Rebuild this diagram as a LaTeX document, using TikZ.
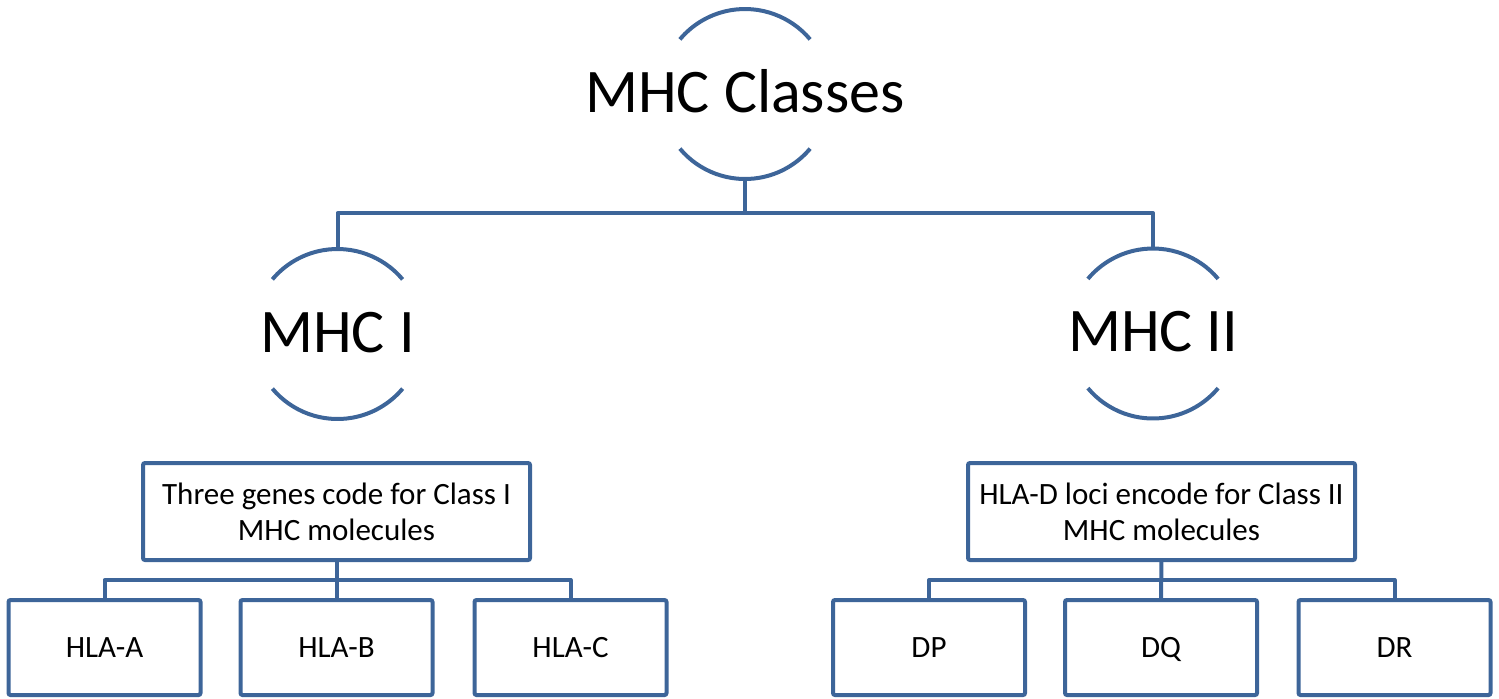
\documentclass[tikz,border=0pt]{standalone}
\usepackage{fontspec}
\setmainfont{Carlito}
\definecolor{lc}{RGB}{61,101,153}
\begin{document}
\begin{tikzpicture}[x=0.5pt,y=0.5pt,
  ln/.style={draw=lc, line width=2pt, line join=round},
  ring/.style={circle, minimum size=85pt, inner sep=0pt, outer sep=0pt},
  big/.style={font=\fontsize{31}{37}\selectfont, inner sep=0pt, text height=20pt, text depth=0pt, yshift=1pt},
  box/.style={draw=lc, line width=2pt, rounded corners=1pt, fill=white,
    font=\fontsize{15.5}{18}\selectfont, align=center, inner sep=0pt, outer sep=0pt},
  topbox/.style={box, minimum width=193.5pt, minimum height=48.5pt},
  leaf/.style={box, minimum width=96pt, minimum height=47.5pt, text height=10pt, text depth=0pt}]
\useasboundingbox (0,0) rectangle (1499,-698);

% ring nodes
\node[ring] (top) at (745,-94) {};
\node[big] (toptxt) at (top) {MHC Classes};
\node[ring] (m1) at (337.5,-334) {};
\node[big] (m1txt) at (m1) {MHC I};
\node[ring] (m2) at (1153,-333.5) {};
\node[big] (m2txt) at (m2) {MHC II};

\foreach \r in {top,m1,m2}{
  \draw[ln] (\r.40) arc[start angle=40, end angle=140, radius=42.5pt];
  \draw[ln] (\r.220) arc[start angle=220, end angle=320, radius=42.5pt];
}

% boxes
\node[topbox] (b1) at (336.5,-511.5) {Three genes code for Class I\\MHC molecules};
\node[topbox] (b2) at (1161.5,-511.5) {HLA-D loci encode for Class II\\MHC molecules};
\node[leaf] (a) at (104.5,-647.5) {HLA-A};
\node[leaf] (b) at (336.5,-647.5) {HLA-B};
\node[leaf] (c) at (570.5,-647.5) {HLA-C};
\node[leaf] (dp) at (929,-647.5) {DP};
\node[leaf] (dq) at (1161,-647.5) {DQ};
\node[leaf] (dr) at (1394.5,-647.5) {DR};

% connectors
\coordinate (busT) at (0,-213);
\coordinate (busB) at (0,-580);
\draw[ln] (top.south) -- (top.south |- busT) -| (m1.north);
\draw[ln] (top.south |- busT) -| (m2.north);
\draw[ln] (b1.south) -- (b.north);
\draw[ln] (b1.south |- busB) -| (a.north);
\draw[ln] (b1.south |- busB) -| (c.north);
\draw[ln] (b2.south) -- (dq.north);
\draw[ln] (b2.south |- busB) -| (dp.north);
\draw[ln] (b2.south |- busB) -| (dr.north);
\end{tikzpicture}
\end{document}
